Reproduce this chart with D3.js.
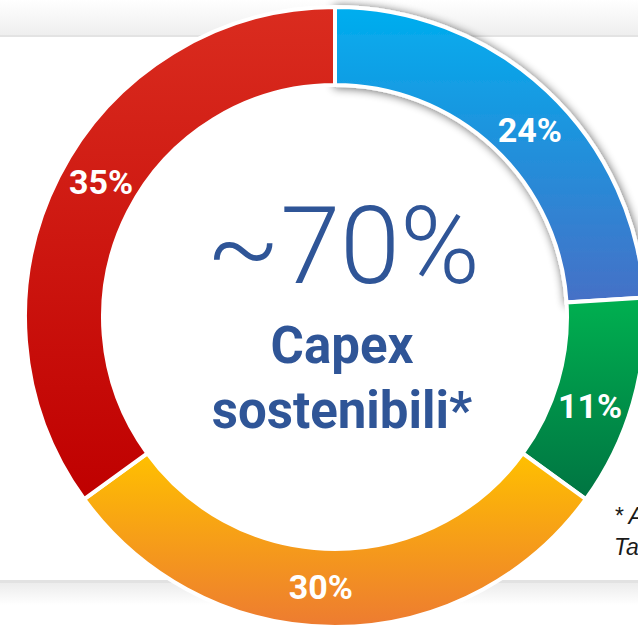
<!DOCTYPE html>
<html>
<head>
<meta charset="utf-8">
<script src="https://cdn.jsdelivr.net/npm/d3@7"></script>
<style>
  html, body { margin: 0; padding: 0; background: #fff; overflow: hidden; }
  svg { display: block; }
</style>
</head>
<body>
<svg id="chart" width="638" height="626"></svg>
<script>
// dati del grafico (in senso orario partendo dall'alto)
const categorie = ["A", "B", "C", "D"];
const valori = [24, 11, 30, 35];
const etichette = ["24%", "11%", "30%", "35%"];
// colori sfumati: [alto, basso]
const coloriAlto = ["#00AEEF", "#00B050", "#FFC000", "#DA2C1F"];
const coloriBasso = ["#4670C6", "#007442", "#ED7B31", "#BF0000"];
const titolo = "~70%";
const sottotitolo = ["Capex", "sostenibili*"];
const nota = ["* Allineati alla", "Tassonomia UE"];

const svg = d3.select("#chart");
const W = 638, H = 626;
const cx = 335, cy = 317;
const rOut = 310, rIn = 232;

const defs = svg.append("defs");

// fascia grigia in alto
const gTop = defs.append("linearGradient").attr("id", "gTop")
    .attr("x1", 0).attr("y1", 0).attr("x2", 0).attr("y2", 1);
gTop.append("stop").attr("offset", "0%").attr("stop-color", "#ffffff");
gTop.append("stop").attr("offset", "100%").attr("stop-color", "#eeeeee");

const gBot = defs.append("linearGradient").attr("id", "gBot")
    .attr("x1", 0).attr("y1", 0).attr("x2", 0).attr("y2", 1);
gBot.append("stop").attr("offset", "0%").attr("stop-color", "#ececec");
gBot.append("stop").attr("offset", "100%").attr("stop-color", "#ffffff");

svg.append("rect").attr("x", 0).attr("y", 0).attr("width", W).attr("height", 36)
    .attr("fill", "url(#gTop)");
svg.append("rect").attr("x", 0).attr("y", 35).attr("width", W).attr("height", 2)
    .attr("fill", "#e3e3e3");
svg.append("rect").attr("x", 0).attr("y", 580).attr("width", W).attr("height", 3)
    .attr("fill", "#e2e2e2");
svg.append("rect").attr("x", 0).attr("y", 583).attr("width", W).attr("height", 22)
    .attr("fill", "url(#gBot)");

// ombra per lo spicchio blu
const filtro = defs.append("filter").attr("id", "ombra")
    .attr("x", "-20%").attr("y", "-20%").attr("width", "140%").attr("height", "140%");
filtro.append("feGaussianBlur").attr("in", "SourceAlpha").attr("stdDeviation", 5).attr("result", "blur");
filtro.append("feOffset").attr("in", "blur").attr("dx", 1).attr("dy", 1).attr("result", "off");
filtro.append("feComponentTransfer").attr("in", "off").attr("result", "sh")
    .append("feFuncA").attr("type", "linear").attr("slope", 0.6);
const merge = filtro.append("feMerge");
merge.append("feMergeNode").attr("in", "sh");
merge.append("feMergeNode").attr("in", "SourceGraphic");

valori.forEach((v, i) => {
    const g = defs.append("linearGradient").attr("id", "grad" + i)
        .attr("x1", 0).attr("y1", 0).attr("x2", 0).attr("y2", 1);
    g.append("stop").attr("offset", "0%").attr("stop-color", coloriAlto[i]);
    g.append("stop").attr("offset", "100%").attr("stop-color", coloriBasso[i]);
});

const pie = d3.pie().sort(null).value(d => d.v);
const dati = pie(valori.map((v, i) => ({ v: v, i: i, cat: categorie[i] })));

const arc = d3.arc().innerRadius(rIn).outerRadius(rOut);
const rLabel = 270;
const shiftLabel = 3 * Math.PI / 180; // le etichette sono leggermente ruotate
const posLabel = d => {
    const a = (d.startAngle + d.endAngle) / 2 + shiftLabel;
    return [rLabel * Math.sin(a), -rLabel * Math.cos(a)];
};

const chart = svg.append("g").attr("transform", `translate(${cx}, ${cy})`);

chart.selectAll(".fetta")
    .data(dati)
    .enter()
    .append("path")
    .attr("class", "fetta")
    .attr("d", arc)
    .attr("fill", d => `url(#grad${d.data.i})`)
    .attr("stroke", "#ffffff")
    .attr("stroke-width", 4)
    .attr("filter", d => d.data.i === 0 ? "url(#ombra)" : null);

chart.selectAll(".etichetta")
    .data(dati)
    .enter()
    .append("text")
    .attr("class", "etichetta")
    .attr("x", d => posLabel(d)[0])
    .attr("y", d => posLabel(d)[1])
    .attr("dy", "0.36em")
    .attr("text-anchor", "middle")
    .style("font-family", "Roboto, sans-serif")
    .style("font-weight", "700")
    .style("font-size", "34px")
    .style("fill", "#ffffff")
    .text(d => etichette[d.data.i]);

// testo centrale
svg.append("text")
    .attr("x", 343).attr("y", 283)
    .attr("text-anchor", "middle")
    .style("font-family", "Roboto, sans-serif")
    .style("font-weight", "300")
    .style("font-size", "108px")
    .style("fill", "#2F5597")
    .text(titolo);

svg.selectAll(".sotto")
    .data(sottotitolo)
    .enter()
    .append("text")
    .attr("class", "sotto")
    .attr("x", 342)
    .attr("y", (d, i) => 363 + i * 65)
    .attr("text-anchor", "middle")
    .style("font-family", "Roboto, sans-serif")
    .style("font-weight", "700")
    .style("font-size", "51px")
    .style("fill", "#2F5597")
    .text(d => d);

// nota a piè di pagina (tagliata dal bordo come nell'originale)
svg.selectAll(".nota")
    .data(nota)
    .enter()
    .append("text")
    .attr("class", "nota")
    .attr("x", 614)
    .attr("y", (d, i) => 524 + i * 31)
    .style("font-family", "'Liberation Sans', Arial, sans-serif")
    .style("font-style", "italic")
    .style("font-size", "23px")
    .style("fill", "#1a1a1a")
    .text(d => d);
</script>
</body>
</html>
